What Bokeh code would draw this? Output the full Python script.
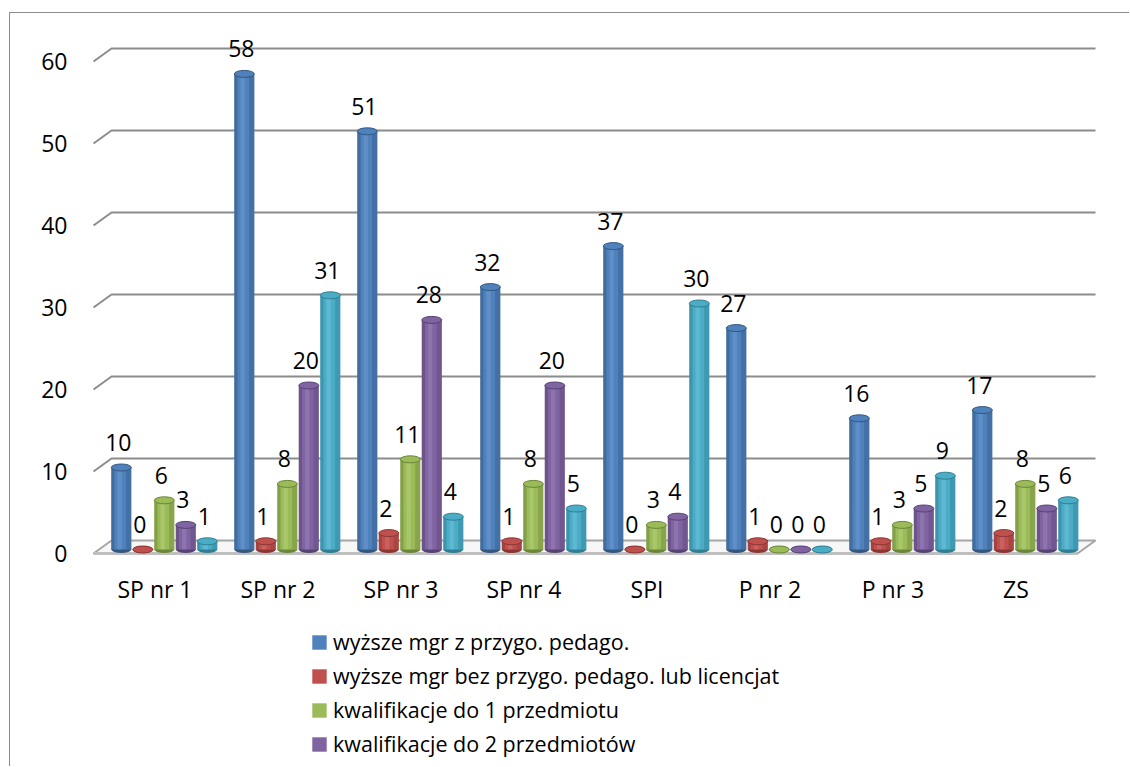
from bokeh.plotting import figure
from bokeh.layouts import column
from bokeh.models import ColumnDataSource, Range1d, FixedTicker, Legend, LegendItem
from bokeh.embed import file_html
from bokeh.resources import INLINE
from bokeh.core.properties import value

# ---------------- data ----------------
categories = ["SP nr 1", "SP nr 2", "SP nr 3", "SP nr 4", "SPI", "P nr 2", "P nr 3", "ZS"]
series_names = [
    "wyższe mgr z przygo. pedago.",
    "wyższe mgr bez przygo. pedago. lub licencjat",
    "kwalifikacje do 1 przedmiotu",
    "kwalifikacje do 2 przedmiotów",
]
mgr_z_przyg = [10, 58, 51, 32, 37, 27, 16, 17]
mgr_bez_przyg = [0, 1, 2, 1, 0, 1, 1, 2]
kwal_1 = [6, 8, 11, 8, 3, 0, 3, 8]
kwal_2 = [3, 20, 28, 20, 4, 0, 5, 5]
seria_5 = [1, 31, 4, 5, 30, 0, 9, 6]
y_ticks = [0, 10, 20, 30, 40, 50, 60]

series_values = [mgr_z_przyg, mgr_bez_przyg, kwal_1, kwal_2, seria_5]

# ---------------- styles ----------------
base = ["#4F81BD", "#C0504D", "#9BBB59", "#8064A2", "#4BACC6"]
dark = ["#34577F", "#8A3633", "#6B8539", "#574372", "#2F7E93"]
light = ["#7AA3D6", "#DA7B78", "#BCD885", "#A18BC2", "#7DCBE0"]
FONT = "Open Sans"

W, H = 1120, 600
H2 = 154
PXX = 123.0          # px per category unit
PXY = 8.2            # px per value unit
FRAME_L, FRAME_R = 70, 20
FRAME_T, FRAME_B = 7, 41
frame_w = W - FRAME_L - FRAME_R
frame_h = H - FRAME_T - FRAME_B
ZERO_PX = 533        # px from frame top to the front zero line
x_start = -13 / PXX
x_end = (frame_w - 13) / PXX
y_end = ZERO_PX / PXY
y_start = -(frame_h - ZERO_PX) / PXY

DX = 18 / PXX        # 3-D depth offset in x (back wall)
DY = 13 / PXY        # 3-D depth offset in y (back wall)
BZ = 4 / PXY         # bars stand half-way into the depth
BAR_W = 20 / PXX
offsets = [-33.7 / PXX, -12.2 / PXX, 9.3 / PXX, 30.8 / PXX, 52.3 / PXX]

p = figure(width=W, height=H, output_backend="svg", toolbar_location=None,
           x_range=Range1d(x_start, x_end), y_range=Range1d(y_start, y_end),
           min_border_left=FRAME_L, min_border_right=FRAME_R,
           min_border_top=FRAME_T, min_border_bottom=FRAME_B)
p.outline_line_color = None
p.background_fill_color = "white"
p.border_fill_color = "white"
p.xgrid.visible = False
p.ygrid.visible = False
p.styles = {"margin-left": "9px", "margin-top": "12px",
            "border-left": "1px solid #8c8c8c", "border-top": "1px solid #8c8c8c"}

n = len(categories)

# floor
p.patch([0, n, n + DX, DX], [0, 0, DY, DY], fill_color="#f7f7f7",
        line_color="#a6a6a6", line_width=2)
p.line([0, n], [0, 0], line_color="#bfbfbf", line_width=3)

# back-wall gridlines with side diagonal
gx, gy = [], []
for v in y_ticks[1:]:
    gx.append([0, DX, n + DX])
    gy.append([v, v + DY, v + DY])
p.multi_line(gx, gy, line_color="#8c8c8c", line_width=2)

for i, vals in enumerate(series_values):
    xs = [k + 0.5 + offsets[i] for k in range(n)]
    src = ColumnDataSource(dict(x=xs, val=vals,
                                top=[v + BZ for v in vals], bot=[BZ] * n,
                                lab=[str(v) for v in vals]))
    p.ellipse(x="x", y="bot", width=20, height=7, width_units="screen",
              height_units="screen", source=src, fill_color=dark[i], line_color=None)
    p.vbar(x="x", top="top", bottom="bot", width=BAR_W, source=src,
           fill_color=base[i], line_color=None)
    p.vbar(x=[x - BAR_W * 0.42 for x in xs], top=src.data["top"], bottom=BZ,
           width=BAR_W * 0.16, fill_color=dark[i], fill_alpha=0.5, line_color=None)
    p.vbar(x=[x + BAR_W * 0.37 for x in xs], top=src.data["top"], bottom=BZ,
           width=BAR_W * 0.26, fill_color=dark[i], fill_alpha=0.4, line_color=None)
    p.vbar(x=[x - BAR_W * 0.08 for x in xs], top=src.data["top"], bottom=BZ,
           width=BAR_W * 0.22, fill_color=light[i], fill_alpha=0.4, line_color=None)
    p.ellipse(x="x", y="top", width=20, height=7, width_units="screen",
              height_units="screen", source=src, fill_color=base[i],
              line_color=dark[i], line_width=1)
    p.text(x="x", y="top", text="lab", source=src, x_offset=-3, y_offset=-25,
           text_align="center", text_baseline="middle", text_font=value(FONT),
           text_font_size="23px", text_color="black")

# axes
p.yaxis.ticker = FixedTicker(ticks=y_ticks)
p.yaxis.axis_line_color = None
p.yaxis.major_tick_line_color = None
p.yaxis.minor_tick_line_color = None
p.yaxis.major_label_standoff = 7
p.yaxis.major_label_text_font = FONT
p.yaxis.major_label_text_font_size = "23px"
p.yaxis.major_label_text_color = "black"

p.xaxis.ticker = FixedTicker(ticks=[k + 0.5 for k in range(n)])
p.xaxis.major_label_overrides = {k + 0.5: c for k, c in enumerate(categories)}
p.xaxis.axis_line_color = None
p.xaxis.major_tick_line_color = None
p.xaxis.minor_tick_line_color = None
p.xaxis.major_tick_out = 0
p.xaxis.major_tick_in = 0
p.xaxis.minor_tick_out = 0
p.xaxis.major_label_standoff = 0
p.xaxis.major_label_text_font = FONT
p.xaxis.major_label_text_font_size = "23px"
p.xaxis.major_label_text_color = "black"

# ---------------- legend figure ----------------
p2 = figure(width=W, height=H2, output_backend="svg", toolbar_location=None,
            x_range=Range1d(0, 1), y_range=Range1d(0, 1),
            min_border_left=0, min_border_right=0, min_border_top=0, min_border_bottom=0)
p2.axis.visible = False
p2.grid.visible = False
p2.outline_line_color = None
p2.styles = {"margin-left": "9px", "border-left": "1px solid #8c8c8c"}

items = []
for i, name in enumerate(series_names):
    # off-screen swatch source: only its colour is used by the legend
    r = p2.vbar(x=[-10], top=[0], width=0.1, fill_color=base[i], line_color=None)
    items.append(LegendItem(label=name, renderers=[r]))

legend = Legend(items=items, location=(230, 8), orientation="vertical",
                border_line_color=None, background_fill_alpha=0, padding=5, margin=0,
                spacing=5, label_height=25, glyph_height=18, glyph_width=18,
                label_standoff=5, label_text_font=FONT, label_text_font_size="21.5px",
                label_text_color="black")
p2.add_layout(legend, "center")

layout = column(p, p2, spacing=0)
open("out.html", "w").write(file_html(layout, INLINE))
